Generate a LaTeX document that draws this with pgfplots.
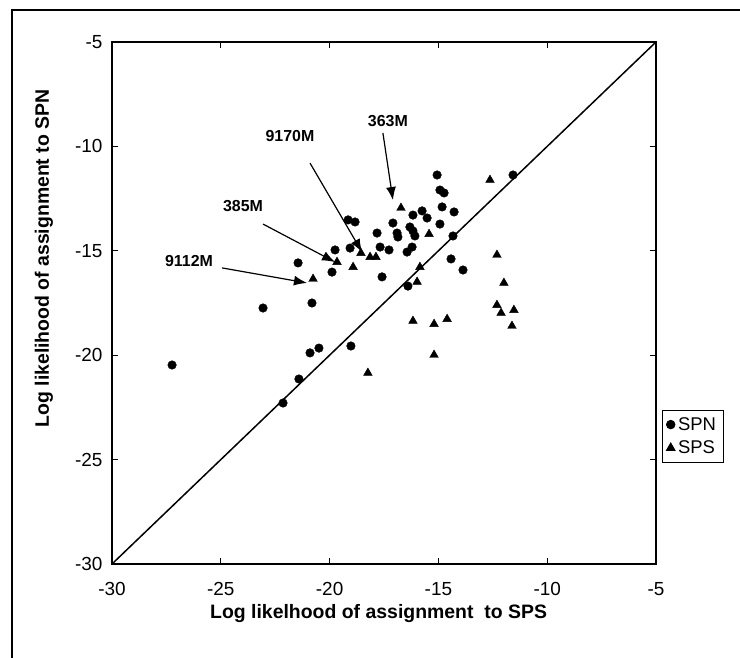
\documentclass[border=0pt]{standalone}
\usepackage{pgfplots}
\pgfplotsset{compat=1.18}
\usepackage{fontspec}
\setmainfont{Liberation Sans}
\usetikzlibrary{arrows.meta}
\begin{document}
\begin{tikzpicture}[x=1bp,y=1bp]
\useasboundingbox (0,0) rectangle (740,658);
\draw[line width=1.2bp] (12,0) -- (12,648) -- (740,648);
\begin{axis}[
  at={(112bp,94bp)}, anchor=south west,
  scale only axis, width=544bp, height=522bp,
  xmin=-30, xmax=-5, ymin=-30, ymax=-5,
  xtick={-30,-25,-20,-15,-10,-5}, ytick={-30,-25,-20,-15,-10,-5},
  tick align=inside, xtick pos=both, ytick pos=both,
  major tick length=6bp,
  axis line style={line width=1.4bp},
  tick style={line width=1bp, black},
  /pgf/number format/assume math mode=true,
  ticklabel style={font=\fontsize{19}{22}\selectfont},
  xticklabel style={yshift=-15bp},
  yticklabel style={xshift=-6bp},
  xlabel={Log likelhood of assignment\ \ to SPS},
  xlabel style={font=\bfseries\fontsize{19.5}{22}\selectfont, at={(axis description cs:0.49,-0.094)}, anchor=center},
  ylabel={Log likelihood of assignment to SPN},
  ylabel style={font=\bfseries\fontsize{19.5}{22}\selectfont, at={(axis description cs:-0.125,0.255)}, anchor=west, rotate=0},
  legend style={at={(axis description cs:1.011,0.295)}, anchor=north west, draw=black, line width=0.8bp, font=\fontsize{18.5}{21}\selectfont, inner xsep=4bp, inner ysep=5bp, row sep=5bp,
    nodes={inner xsep=3bp}},
  legend image code/.code={\draw[#1] plot coordinates {(0.15cm,0cm)};},
  legend cell align=left,
  clip=false,
]
\addplot[only marks, mark=*, mark size=4.3bp, black] coordinates {
(-27.24,-20.47) (-23.06,-17.74) (-21.45,-15.58) (-20.81,-17.50)
(-20.90,-19.89) (-20.49,-19.66) (-19.02,-19.56) (-21.41,-21.14)
(-22.14,-22.29) (-19.89,-16.02) (-17.59,-16.25) (-19.15,-13.52)
(-18.83,-13.62) (-17.82,-14.15) (-19.06,-14.87) (-17.68,-14.82)
(-17.27,-14.96) (-16.44,-15.06) (-16.21,-14.82) (-17.09,-13.67)
(-16.90,-14.15) (-16.86,-14.34) (-16.31,-13.86) (-16.17,-14.05)
(-16.08,-14.29) (-16.17,-13.29) (-15.75,-13.09) (-15.52,-13.43)
(-15.06,-11.37) (-14.93,-12.09) (-14.74,-12.23) (-14.83,-12.90)
(-14.28,-13.14) (-14.93,-13.72) (-14.33,-14.29) (-14.42,-15.39)
(-13.87,-15.92) (-16.40,-16.69) (-11.57,-11.37) (-19.75,-14.96)
};
\addlegendentry{SPN}
\addplot[only marks, mark=triangle*, mark size=5bp, black] coordinates {
(-20.76,-16.35) (-18.92,-15.78) (-19.66,-15.54) (-18.56,-15.11)
(-18.14,-15.30) (-17.87,-15.30) (-16.72,-12.95) (-15.43,-14.20)
(-15.85,-15.78) (-15.98,-16.49) (-12.63,-11.61) (-12.31,-15.20)
(-11.99,-16.54) (-12.31,-17.60) (-12.12,-17.98) (-11.53,-17.84)
(-11.62,-18.60) (-16.17,-18.36) (-15.20,-18.51) (-14.60,-18.27)
(-15.20,-19.99) (-18.24,-20.85)
};
\addlegendentry{SPS}
\addplot[forget plot, black, line width=1.5bp] coordinates {(-30,-30) (-5,-5)};
\addplot[forget plot, black, line width=1.2bp, -{Latex[length=13bp,width=10bp]}] coordinates {(-24.94,-15.82) (-21.04,-16.54)};
\addplot[forget plot, black, line width=1.2bp, -{Latex[length=13bp,width=10bp]}] coordinates {(-23.06,-13.72) (-19.75,-15.54)};
\addplot[forget plot, black, line width=1.2bp, -{Latex[length=13bp,width=10bp]}] coordinates {(-20.90,-10.80) (-18.51,-15.06)};
\addplot[forget plot, black, line width=1.2bp, -{Latex[length=13bp,width=10bp]}] coordinates {(-17.55,-9.36) (-17.09,-12.57)};
\node[font=\bfseries\fontsize{16}{18}\selectfont] at (axis cs:-26.46,-15.49) {9112M};
\node[font=\bfseries\fontsize{16}{18}\selectfont] at (axis cs:-23.98,-12.85) {385M};
\node[font=\bfseries\fontsize{16}{18}\selectfont] at (axis cs:-21.82,-9.50) {9170M};
\node[font=\bfseries\fontsize{16}{18}\selectfont] at (axis cs:-17.32,-8.78) {363M};
\end{axis}
\end{tikzpicture}
\end{document}
